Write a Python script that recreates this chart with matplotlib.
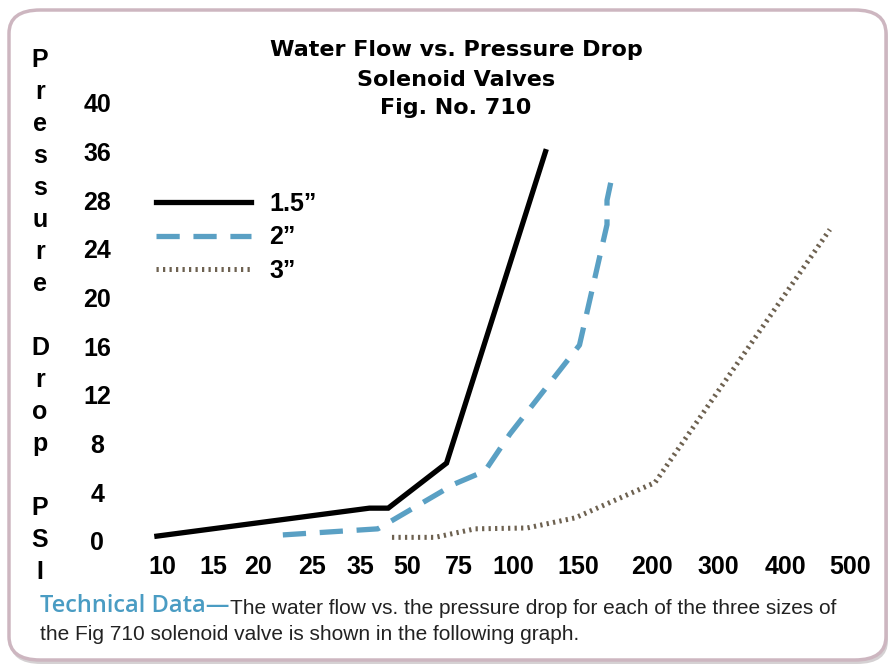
import numpy as np
import matplotlib
matplotlib.use("Agg")
import matplotlib.pyplot as plt
from matplotlib.patches import FancyBboxPatch

# tick labels as printed on the chart (unevenly spaced values, evenly spaced marks)
x_ticks = [10, 15, 20, 25, 35, 50, 75, 100, 150, 200, 300, 400, 500]
y_ticks = [0, 4, 8, 12, 16, 20, 24, 28, 36, 40]

# where each tick sits along the axis (display units of the custom scales)
x_tick_pos = [0, 51, 96, 150, 198, 245, 297, 351, 416, 490, 556, 623, 688]
y_tick_pos = list(range(len(y_ticks)))

# water flow (GPM) vs pressure drop (PSI)
flow_15 = [9.5, 38, 44, 69, 125]
psi_15 = [0.4, 2.7, 2.7, 6.4, 36]

flow_2 = [22.3, 40.7, 73, 87, 98.6, 151, 169.6, 169.6, 173.6]
psi_2 = [0.5, 1.0, 4.7, 5.75, 8.8, 16.1, 26, 28, 32.6]

flow_3 = [45.2, 63.5, 82.4, 110.8, 147.7, 204.5, 469]
psi_3 = [0.3, 0.3, 1.0, 1.07, 1.9, 4.8, 25.6]

title_lines = ["Water Flow vs. Pressure Drop", "Solenoid Valves", "Fig. No. 710"]


def piecewise(xp, fp):
    # linear interpolation that keeps going past both ends
    xp = np.asarray(xp, float)
    fp = np.asarray(fp, float)

    def f(v):
        v = np.asarray(v, float)
        out = np.interp(v, xp, fp)
        lo = fp[0] + (v - xp[0]) * (fp[1] - fp[0]) / (xp[1] - xp[0])
        hi = fp[-1] + (v - xp[-1]) * (fp[-1] - fp[-2]) / (xp[-1] - xp[-2])
        out = np.where(v < xp[0], lo, out)
        out = np.where(v > xp[-1], hi, out)
        return out
    return f


W, H = 893, 668
fig = plt.figure(figsize=(W / 100, H / 100), dpi=100)
fig.patch.set_facecolor("white")

# rounded frame with a soft shadow
shadow = FancyBboxPatch((10 / W, 4 / H), 878 / W, 650 / H,
                        boxstyle="round,pad=0,rounding_size=0.035",
                        transform=fig.transFigure, facecolor="#b9b3b6",
                        edgecolor="none", alpha=0.6, zorder=0)
frame = FancyBboxPatch((9 / W, 8 / H), 877 / W, 650 / H,
                       boxstyle="round,pad=0,rounding_size=0.035",
                       transform=fig.transFigure, facecolor="white",
                       edgecolor="#cdb6c0", linewidth=2.5, zorder=1)
fig.patches.extend([shadow, frame])

ax_l, ax_r, ax_t, ax_b = 150, 872, 95, 548
ax = fig.add_axes([ax_l / W, 1 - ax_b / H, (ax_r - ax_l) / W, (ax_b - ax_t) / H])
ax.set_facecolor("none")
ax.set_zorder(2)

x_fwd, x_inv = piecewise(x_ticks, x_tick_pos), piecewise(x_tick_pos, x_ticks)
y_fwd, y_inv = piecewise(y_ticks, y_tick_pos), piecewise(y_tick_pos, y_ticks)
ax.set_xscale("function", functions=(x_fwd, x_inv))
ax.set_yscale("function", functions=(y_fwd, y_inv))
ax.set_xlim(float(x_inv(ax_l - 162)), float(x_inv(ax_r - 162)))
ax.set_ylim(float(y_inv(-(ax_b - 541) / 48.67)), float(y_inv((541 - ax_t) / 48.67)))

ax.plot(flow_15, psi_15, color="black", lw=3.8, solid_joinstyle="miter",
        label="1.5\u201d")
ax.plot(flow_2, psi_2, color="#5aa0c4", lw=3.8, dashes=(4.4, 2.6),
        dash_capstyle="butt", label="2\u201d")
ax.plot(flow_3, psi_3, color="#6d6150", lw=3.6, dashes=(0.45, 0.85),
        dash_capstyle="butt", label="3\u201d")

for s in ax.spines.values():
    s.set_visible(False)

bold = dict(family="Liberation Sans", weight="bold")
ax.set_xticks(x_ticks)
ax.set_xticklabels([str(v) for v in x_ticks], fontsize=18, **bold)
ax.set_yticks(y_ticks)
ax.set_yticklabels([str(v) for v in y_ticks], fontsize=18, **bold)
ax.minorticks_off()
ax.tick_params(axis="x", length=0, pad=5)
ax.tick_params(axis="y", length=0, pad=38)
for lab in ax.get_yticklabels():
    lab.set_horizontalalignment("center")

# stacked axis title, one letter per line
ylab = "\n".join("Pressure Drop PSI").replace("\n \n", "\n\n")
fig.text(40 / W, 1 - 316 / H, ylab, ha="center", va="center",
         fontsize=18, linespacing=1.42, **bold)

for txt, base in zip(title_lines, [56.5, 85.5, 113.5]):
    fig.text(456 / W, 1 - base / H, txt, ha="center", va="baseline",
             fontsize=16, family="DejaVu Sans", weight="bold")

ax.legend(loc="upper left", bbox_to_anchor=(156 / W, 1 - 192 / H),
          bbox_transform=fig.transFigure, frameon=False,
          prop=dict(family="Liberation Sans", weight="bold", size=18),
          handlelength=3.8, handletextpad=0.72, labelspacing=0.37,
          borderpad=0, borderaxespad=0)

t1 = fig.text(40 / W, 1 - 612 / H, "Technical Data\u2014", color="#4a9cc3",
              fontsize=17, family="Open Sans", weight="semibold")
ax.annotate("The water flow vs. the pressure drop for each of the three sizes of",
            xy=(1, 0), xycoords=t1, va="bottom", fontsize=15,
            family="Liberation Sans", color="#222222")
fig.text(40 / W, 1 - 640 / H, "the Fig 710 solenoid valve is shown in the following graph.",
         fontsize=15, family="Liberation Sans", color="#222222")

fig.savefig("out.png", dpi=100)
